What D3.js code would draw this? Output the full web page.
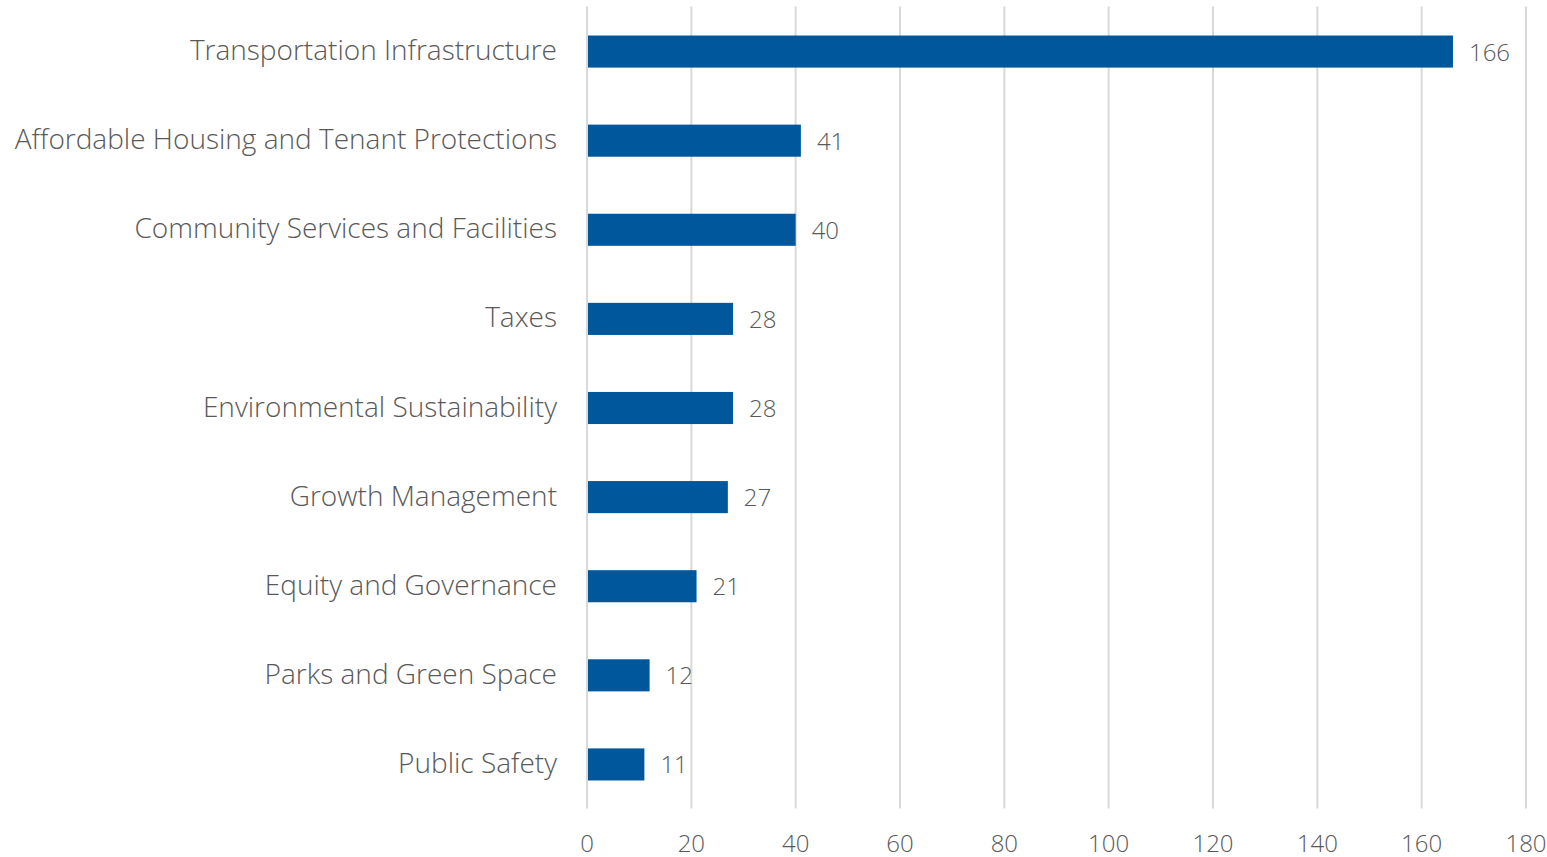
<!DOCTYPE html>
<html><head><meta charset="utf-8">
<script src="https://cdn.jsdelivr.net/npm/d3@7/dist/d3.min.js"></script>
<style>body{margin:0;background:#fff;} text{font-family:"Open Sans",sans-serif;font-weight:300;fill:#595959;}</style>
</head><body>
<svg id="c" width="1547" height="857"></svg>
<script>
const categories = ["Transportation Infrastructure","Affordable Housing and Tenant Protections","Community Services and Facilities","Taxes","Environmental Sustainability","Growth Management","Equity and Governance","Parks and Green Space","Public Safety"];
const values = [166,41,40,28,28,27,21,12,11];
const xTicks = [0,20,40,60,80,100,120,140,160,180];

const svg = d3.select("#c");
const x = d3.scaleLinear().domain([0,180]).range([587,1526]);
const y = d3.scaleBand().domain(categories).range([6.5,808.5]).paddingInner(0.64).paddingOuter(0.32);

svg.append("g").selectAll("line").data(xTicks).join("line")
  .attr("x1",d=>x(d)).attr("x2",d=>x(d)).attr("y1",6.5).attr("y2",808.5)
  .attr("stroke","#d9d9d9").attr("stroke-width",2);

svg.append("g").selectAll("rect").data(values).join("rect")
  .attr("x",x(0)+1).attr("y",(d,i)=>y(categories[i])+0.5)
  .attr("width",d=>x(d)-x(0)-1).attr("height",y.bandwidth())
  .attr("fill","#00579b");

svg.append("g").selectAll("text").data(values).join("text")
  .attr("x",d=>x(d)+16).attr("y",(d,i)=>y(categories[i])+y.bandwidth()/2)
  .attr("dominant-baseline","central").attr("font-size",24).text(d=>d);

svg.append("g").selectAll("text").data(categories).join("text")
  .attr("x",557).attr("y",d=>y(d)+y.bandwidth()/2-2)
  .attr("text-anchor","end").attr("dominant-baseline","central").attr("font-size",28).text(d=>d);

svg.append("g").selectAll("text").data(xTicks).join("text")
  .attr("x",d=>x(d)).attr("y",842)
  .attr("text-anchor","middle").attr("dominant-baseline","central").attr("font-size",24).text(d=>d);
</script>
</body></html>
